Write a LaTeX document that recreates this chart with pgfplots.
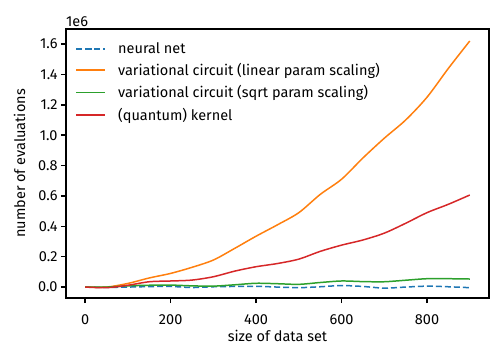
\documentclass[border=0pt]{standalone}
\usepackage{fontspec}
\setmainfont{Fira Sans}
\usepackage{pgfplots}
\pgfplotsset{compat=1.18}
\usetikzlibrary{calc}
\definecolor{tabblue}{HTML}{1F77B4}
\definecolor{taborange}{HTML}{FF7F0E}
\definecolor{tabgreen}{HTML}{2CA02C}
\definecolor{tabred}{HTML}{D62728}
\newcommand{\myfont}{\fontsize{14.5bp}{16bp}\selectfont}
\begin{document}
\begin{tikzpicture}[font=\myfont]
\begin{axis}[
  scale only axis,
  width=423bp, height=269bp,
  xmin=-45, xmax=945,
  ymin=-0.072, ymax=1.699,
  axis line style={line width=1.4pt, black},
  xtick={0,200,400,600,800},
  ytick={0,0.2,0.4,0.6,0.8,1.0,1.2,1.4,1.6},
  yticklabel style={/pgf/number format/.cd, fixed, fixed zerofill, precision=1},
  /pgf/number format/assume math mode=true,
  tick label style={font=\myfont},
  label style={font=\myfont},
  xticklabel style={yshift=-8bp},
  tick align=outside,
  xtick pos=bottom, ytick pos=left,
  major tick length=5bp,
  tick style={line width=1.6pt, black},
  xlabel={size of data set},
  ylabel={number of evaluations},
  xlabel style={yshift=1bp},
  ylabel style={yshift=6bp},
  legend style={draw=none, fill=none, at={(0.015,0.965)}, anchor=north west,
    row sep=4.5bp, font=\myfont},
  legend cell align=left,
  legend image code/.code={\draw[#1, line width=1.8pt] plot coordinates {(3bp,0bp) (32bp,0bp)}; \path (42bp,0bp);},
  every axis plot/.append style={line width=1.5pt, smooth, tension=0.5},
  after end axis/.code={
    \coordinate (sw) at (rel axis cs:0,0);
    \coordinate (nw) at (rel axis cs:0,1);
  },
  clip=false,
]
\addplot[tabblue, dash pattern=on 6bp off 3bp] coordinates {
(0,0) (50,-0.002) (100,0.0) (150,0.003) (200,0.004) (250,-0.003) (300,0.002) (350,0.004) (400,0.005) (450,0.0) (500,-0.004) (550,0.002) (600,0.01) (650,0.004) (700,-0.007) (750,0.0) (800,0.006) (850,0.002) (900,-0.004)};
\addlegendentry{neural net}
\addplot[taborange] coordinates {
(0,0) (50,0.0) (100,0.024) (150,0.06) (200,0.09) (250,0.13) (300,0.178) (350,0.255) (400,0.335) (450,0.41) (500,0.49) (550,0.61) (600,0.71) (650,0.85) (700,0.98) (750,1.10) (800,1.25) (850,1.44) (900,1.62)};
\addlegendentry{variational circuit (linear param scaling)}
\addplot[tabgreen] coordinates {
(0,0) (50,0.0) (100,0.008) (150,0.012) (200,0.013) (250,0.008) (300,0.006) (350,0.015) (400,0.025) (450,0.022) (500,0.018) (550,0.03) (600,0.04) (650,0.036) (700,0.035) (750,0.045) (800,0.055) (850,0.055) (900,0.053)};
\addlegendentry{variational circuit (sqrt param scaling)}
\addplot[tabred] coordinates {
(0,0) (50,-0.004) (100,0.012) (150,0.035) (200,0.04) (250,0.046) (300,0.068) (350,0.105) (400,0.134) (450,0.155) (500,0.184) (550,0.235) (600,0.276) (650,0.31) (700,0.355) (750,0.42) (800,0.49) (850,0.545) (900,0.606)};
\addlegendentry{(quantum) kernel}
\end{axis}
\node[anchor=south west, inner sep=0pt] at ($(nw)+(0,2bp)$) {1e6};
\pgfresetboundingbox
\path[use as bounding box] ($(sw)+(-66bp,-62bp)$) rectangle ($(sw)+(438bp,298bp)$);
\end{tikzpicture}
\end{document}
